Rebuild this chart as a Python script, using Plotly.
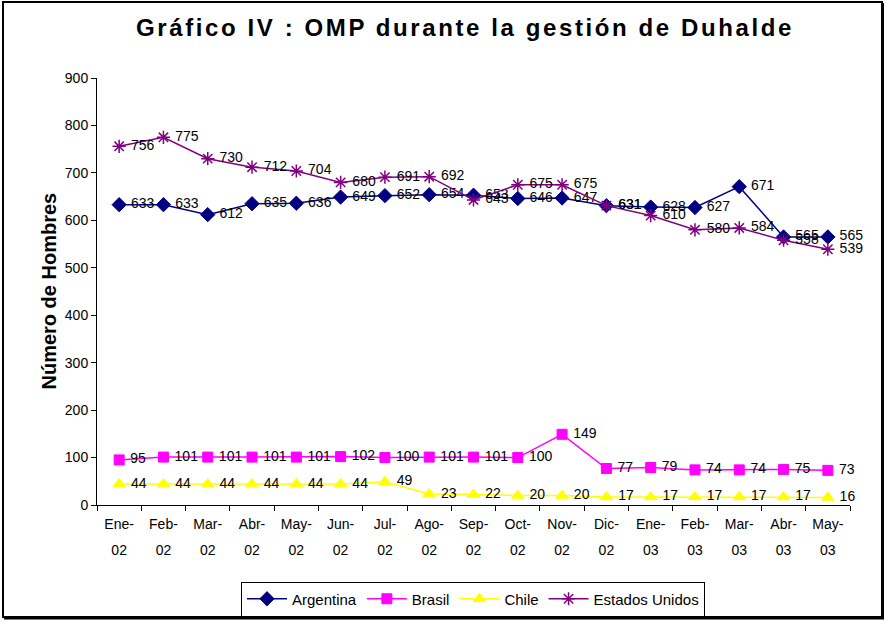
import plotly.graph_objects as go

months = ["Ene-02", "Feb-02", "Mar-02", "Abr-02", "May-02", "Jun-02", "Jul-02", "Ago-02", "Sep-02",
          "Oct-02", "Nov-02", "Dic-02", "Ene-03", "Feb-03", "Mar-03", "Abr-03", "May-03"]
month_ticks = ["Ene-", "Feb-", "Mar-", "Abr-", "May-", "Jun-", "Jul-", "Ago-", "Sep-",
               "Oct-", "Nov-", "Dic-", "Ene-", "Feb-", "Mar-", "Abr-", "May-"]
year_ticks = ["02"] * 12 + ["03"] * 5
argentina = [633, 633, 612, 635, 636, 649, 652, 654, 653, 646, 647, 631, 628, 627, 671, 565, 565]
brasil = [95, 101, 101, 101, 101, 102, 100, 101, 101, 100, 149, 77, 79, 74, 74, 75, 73]
chile = [44, 44, 44, 44, 44, 44, 49, 23, 22, 20, 20, 17, 17, 17, 17, 17, 16]
estados_unidos = [756, 775, 730, 712, 704, 680, 691, 692, 643, 675, 675, 631, 610, 580, 584, 558, 539]

FONT = "Arial, Liberation Sans, sans-serif"
NB = "\u00a0"

series = [
    ("Argentina", argentina, "#000080", "diamond", 11, 1),
    ("Brasil", brasil, "#FF00FF", "square", 10, 1),
    ("Chile", chile, "#FFFF00", "triangle-up", 11, 1),
    ("Estados Unidos", estados_unidos, "#800080", "asterisk-open", 11, 1.5),
]

fig = go.Figure()
for name, vals, color, sym, size, lw in series:
    fig.add_trace(go.Scatter(
        x=months, y=vals, name=name, mode="lines+markers+text",
        text=[NB + str(v) for v in vals], textposition="middle right",
        textfont=dict(family=FONT, size=14, color="black"),
        line=dict(color=color, width=1.5),
        marker=dict(symbol=sym, size=size, color=color, line=dict(color=color, width=lw)),
        cliponaxis=False,
    ))

# invisible helper trace so the second (year) tick row is drawn
fig.add_trace(go.Scatter(x=list(range(len(year_ticks))), y=[None] * len(year_ticks),
                         xaxis="x2", yaxis="y", mode="lines", showlegend=False,
                         hoverinfo="skip"))

W, H = 886, 621
L, R, T, B = 97, 36, 78, 116
pw, ph = W - L - R, H - T - B

def px(x):
    return (x - L) / pw

def py(y):
    return (H - B - y) / ph

fig.update_layout(
    width=W, height=H,
    margin=dict(l=L, r=R, t=T, b=B),
    paper_bgcolor="white", plot_bgcolor="white",
    font=dict(family=FONT, size=13, color="black"),
    title=dict(text="<b><span style='letter-spacing:2.6px'>Gráfico IV : OMP durante la gestión de Duhalde</span></b>",
               x=465 / W, xanchor="center",
               y=1 - 28 / H, yanchor="middle",
               font=dict(family=FONT, size=24, color="black")),
    showlegend=True,
    legend=dict(orientation="h", x=px(473), xanchor="center",
                yref="container", y=(H - 599) / H, yanchor="middle",
                bordercolor="black", borderwidth=1, bgcolor="white",
                font=dict(family=FONT, size=15), tracegroupgap=0, itemwidth=40),
    xaxis=dict(type="category", categoryarray=months, categoryorder="array",
               range=[-0.5, 16.5], showgrid=False, zeroline=False,
               showline=True, linecolor="black", linewidth=1,
               tickmode="array", tickvals=months, ticktext=month_ticks,
               ticks="outside", tickson="boundaries", ticklen=5, tickcolor="black",
               ticklabelstandoff=6,
               tickfont=dict(family=FONT, size=14)),
    xaxis2=dict(overlaying="x", anchor="y", side="bottom", range=[-0.5, 16.5],
                showgrid=False, zeroline=False, showline=False, ticks="",
                tickmode="array", tickvals=list(range(len(year_ticks))), ticktext=year_ticks,
                ticklabelstandoff=35, tickfont=dict(family=FONT, size=14)),
    yaxis=dict(range=[0, 900], dtick=100, showgrid=False, zeroline=False,
               showline=True, linecolor="black", linewidth=1,
               ticks="outside", ticklen=5, tickcolor="black",
               tickfont=dict(family=FONT, size=14)),
    annotations=[dict(text="<b>Número de Hombres</b>", x=px(35), y=0.5, xref="paper", yref="paper",
                      textangle=-90, showarrow=False, font=dict(family=FONT, size=20))],
    shapes=[dict(type="rect", xref="paper", yref="paper",
                 x0=px(3), x1=px(882), y0=py(617), y1=py(2),
                 line=dict(color="black", width=2)),
            dict(type="line", xref="paper", yref="paper",
                 x0=px(883), x1=px(883), y0=py(619), y1=py(3),
                 line=dict(color="black", width=2)),
            dict(type="line", xref="paper", yref="paper",
                 x0=px(4), x1=px(884), y0=py(618.5), y1=py(618.5),
                 line=dict(color="black", width=2))],
)

fig.write_html("out.html", config={"displayModeBar": False},
               post_script="document.body.style.margin='0';document.body.style.overflow='hidden';")
